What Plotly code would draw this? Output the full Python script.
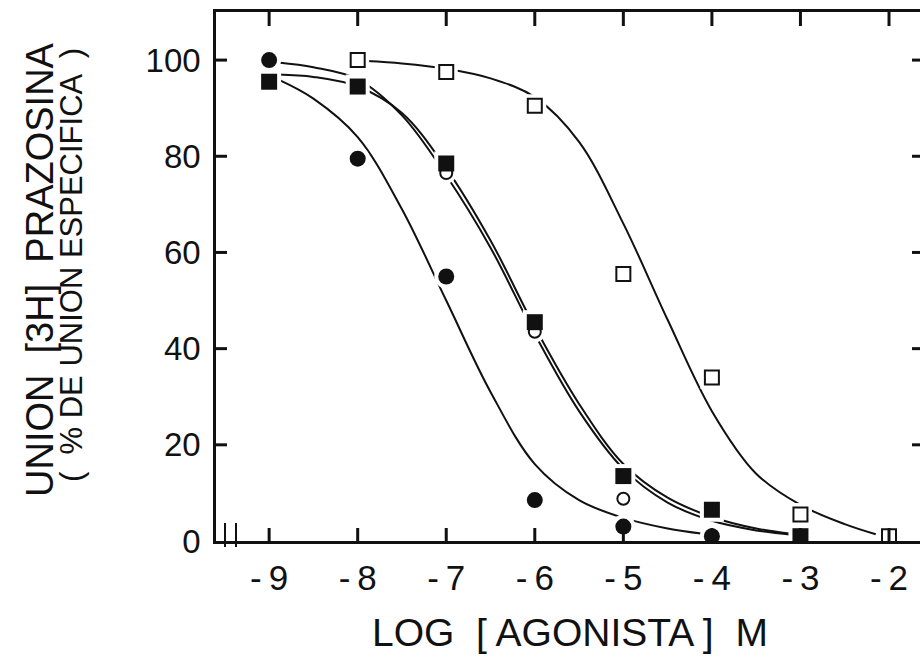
import plotly.graph_objects as go

# ---------------- data ----------------
x_ticks = [-9, -8, -7, -6, -5, -4, -3, -2]
x_ticklabels = ["-\u20099", "-\u20098", "-\u20097", "-\u20096",
                "-\u20095", "-\u20094", "-\u20093", "-\u20092"]
y_ticks = [0, 20, 40, 60, 80, 100]
y_ticklabels = ["0", "20", "40", "60", "80", "100"]

# filled circles
fc_x = [-9, -8, -7, -6, -5, -4]
fc_y = [100, 79.5, 55, 8.5, 3, 1]
# open circles
oc_x = [-7, -6, -5]
oc_y = [76.5, 43.5, 8.8]
# filled squares
fs_x = [-9, -8, -7, -6, -5, -4, -3]
fs_y = [95.5, 94.5, 78.5, 45.5, 13.5, 6.5, 1]
# open squares
os_x = [-8, -7, -6, -5, -4, -3, -2]
os_y = [100, 97.5, 90.5, 55.5, 34, 5.5, 1]

# fitted curves, values
curveA_x = [-8.9, -8.5, -8.0, -7.5, -7.0, -6.5, -6.0, -5.5, -5.0, -4.5, -4.1]
curveA_y = [96, 92, 84, 69, 50, 31, 16, 8.5, 4.8, 2.6, 1.5]

curveB_x = [-8.9, -8.5, -8.0, -7.5, -7.0, -6.5, -6.0, -5.5, -5.0, -4.5, -4.0, -3.5, -3.1]
curveB_y = [99.5, 98.5, 96, 88.5, 76, 61, 43, 27, 15, 8, 4.2, 2.2, 1.3]

curveC_x = [-8.9, -8.5, -8.0, -7.5, -7.0, -6.5, -6.0, -5.5, -5.0, -4.5, -4.0, -3.5, -3.1]
curveC_y = [97, 96.5, 94.5, 89, 77.5, 62.5, 44.5, 28.5, 16, 9, 5, 2.6, 1.5]

curveD_x = [-7.9, -7.5, -7.0, -6.5, -6.0, -5.5, -5.0, -4.5, -4.0, -3.5, -3.0, -2.5, -2.15]
curveD_y = [99.8, 99.3, 98.2, 96.2, 92.3, 83, 66, 46, 27, 14, 7.5, 3.5, 1.4]

INK = "#111111"
FONT = "Liberation Sans, Arial, Helvetica, sans-serif"
X_RANGE = [-9.6, -1.65]
Y_RANGE = [0, 110]

L, T, B = 216, 12, 128
W, H = 920, 669
pw = W - L
ph = H - T - B
x_per_px = (X_RANGE[1] - X_RANGE[0]) / pw
y_per_px = (Y_RANGE[1] - Y_RANGE[0]) / ph

fig = go.Figure()

# curves
for cx, cy in [(curveA_x, curveA_y), (curveB_x, curveB_y),
               (curveC_x, curveC_y), (curveD_x, curveD_y)]:
    fig.add_trace(go.Scatter(x=cx, y=cy, mode="lines",
                             line=dict(color=INK, width=2, shape="spline", smoothing=1.0),
                             hoverinfo="skip", showlegend=False))

# white halos around markers (gaps in the lines)
for mx, my, sym, sz in [(oc_x, oc_y, "circle", 13), (fc_x, fc_y, "circle", 16),
                        (fs_x, fs_y, "square", 16), (os_x, os_y, "square", 15)]:
    fig.add_trace(go.Scatter(x=mx, y=my, mode="markers",
                             marker=dict(symbol=sym, size=sz + 8, color="white",
                                         line=dict(width=0)),
                             hoverinfo="skip", showlegend=False))

# markers
fig.add_trace(go.Scatter(x=oc_x, y=oc_y, mode="markers", showlegend=False,
                         marker=dict(symbol="circle", size=12, color="white",
                                     line=dict(color=INK, width=2))))
fig.add_trace(go.Scatter(x=fc_x, y=fc_y, mode="markers", showlegend=False,
                         marker=dict(symbol="circle", size=16, color=INK,
                                     line=dict(width=0))))
fig.add_trace(go.Scatter(x=fs_x, y=fs_y, mode="markers", showlegend=False,
                         marker=dict(symbol="square", size=16, color=INK,
                                     line=dict(width=0))))
fig.add_trace(go.Scatter(x=os_x, y=os_y, mode="markers", showlegend=False,
                         marker=dict(symbol="square", size=14, color="white",
                                     line=dict(color=INK, width=2))))

fig.update_layout(
    width=W, height=H,
    margin=dict(l=L, r=0, t=T, b=B),
    paper_bgcolor="white", plot_bgcolor="white",
    font=dict(family=FONT, color=INK),
    xaxis=dict(range=X_RANGE, tickvals=x_ticks, ticktext=x_ticklabels,
               ticks="", showline=True, linewidth=2.5, linecolor=INK, mirror=True,
               showgrid=False, zeroline=False,
               tickfont=dict(size=35, family=FONT, color=INK),
               ticklabelstandoff=4),
    yaxis=dict(range=Y_RANGE, tickvals=y_ticks, ticktext=y_ticklabels,
               ticks="", showline=True, linewidth=2.5, linecolor=INK,
               showgrid=False, zeroline=False,
               tickfont=dict(size=33, family=FONT, color=INK),
               ticklabelstandoff=6),
)

# inward tick marks on all four sides of the frame, placed on the axis scales
tick_line = dict(color=INK, width=3)
for xv in x_ticks:
    fig.add_shape(type="line", xref="x", yref="y", layer="above",
                  x0=xv, x1=xv, y0=Y_RANGE[0], y1=Y_RANGE[0] + 13 * y_per_px,
                  line=tick_line)
    fig.add_shape(type="line", xref="x", yref="y", layer="above",
                  x0=xv, x1=xv, y0=Y_RANGE[1], y1=Y_RANGE[1] - 14 * y_per_px,
                  line=tick_line)
for yv in y_ticks[1:]:
    fig.add_shape(type="line", xref="x", yref="y", layer="above",
                  x0=X_RANGE[0], x1=X_RANGE[0] + 11 * x_per_px, y0=yv, y1=yv,
                  line=tick_line)
    fig.add_shape(type="line", xref="x", yref="y", layer="above",
                  x0=X_RANGE[1], x1=X_RANGE[1] - 8 * x_per_px, y0=yv, y1=yv,
                  line=tick_line)


def px_x(p):
    return (p - L) / pw


def px_y(p):
    return (H - B - p) / ph


fig.add_annotation(text="UNION  [3H]  PRAZOSINA", xref="paper", yref="paper",
                   x=px_x(40), y=px_y(270), xanchor="center", yanchor="middle",
                   textangle=-90, showarrow=False,
                   font=dict(size=38, family=FONT, color=INK))
fig.add_annotation(text="(  % DE UNION ESPECIFICA  )", xref="paper", yref="paper",
                   x=px_x(71), y=px_y(265), xanchor="center", yanchor="middle",
                   textangle=-90, showarrow=False,
                   font=dict(size=31, family=FONT, color=INK))
fig.add_annotation(text="LOG  [ AGONISTA ]  M", xref="paper", yref="paper",
                   x=px_x(570), y=px_y(632), xanchor="center", yanchor="middle",
                   showarrow=False, font=dict(size=39, family=FONT, color=INK))

# axis-break marks near the origin
for bx in (225, 236):
    fig.add_shape(type="line", xref="paper", yref="paper",
                  x0=px_x(bx), x1=px_x(bx), y0=px_y(523), y1=px_y(547),
                  line=dict(color=INK, width=2))

fig.write_html("out.html")
